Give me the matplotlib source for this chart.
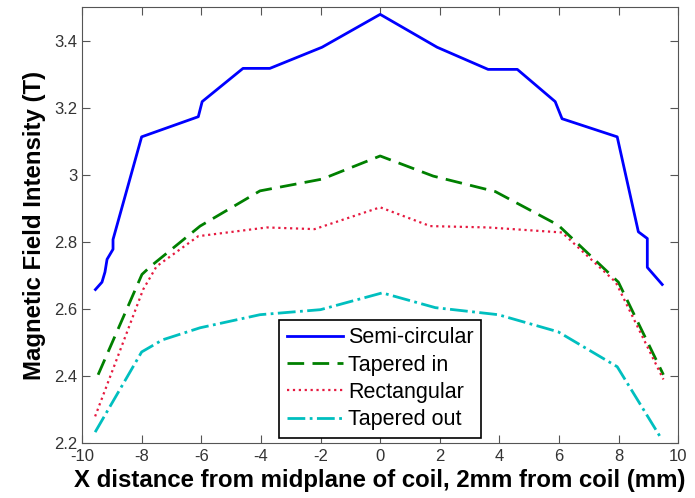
import matplotlib
matplotlib.use('Agg')
import matplotlib.pyplot as plt

plt.rcParams['font.family'] = ['Liberation Sans', 'DejaVu Sans']
plt.rcParams['axes.unicode_minus'] = False

# semi-circular
x_semi = [-9.55, -9.33, -9.23, -9.16, -8.96, -8.96, -8.0, -6.1, -5.97, -4.6, -3.7, -1.95, 0.0,
          1.91, 3.62, 4.6, 5.87, 6.1, 7.95, 8.66, 8.96, 8.96, 9.46]
y_semi = [2.658, 2.68, 2.71, 2.748, 2.778, 2.807, 3.113, 3.173, 3.218, 3.317, 3.317, 3.38, 3.478,
          3.38, 3.314, 3.314, 3.218, 3.167, 3.113, 2.83, 2.81, 2.724, 2.673]

# tapered in
x_tin = [-9.46, -7.99, -7.7, -6.04, -4.03, -1.95, 0.0, 1.78, 3.86, 5.97, 7.99, 9.5]
y_tin = [2.404, 2.703, 2.727, 2.847, 2.952, 2.987, 3.056, 2.996, 2.95, 2.85, 2.68, 2.404]

# rectangular
x_rect = [-9.56, -7.95, -7.5, -6.1, -3.8, -2.2, 0.0, 1.68, 3.62, 6.1, 7.9, 9.5]
y_rect = [2.28, 2.658, 2.727, 2.817, 2.843, 2.838, 2.903, 2.847, 2.843, 2.828, 2.68, 2.39]

# tapered out
x_tout = [-9.56, -8.0, -7.3, -6.04, -4.03, -2.0, 0.07, 1.85, 3.96, 5.97, 7.95, 9.4]
y_tout = [2.233, 2.472, 2.508, 2.544, 2.583, 2.598, 2.648, 2.604, 2.583, 2.532, 2.428, 2.218]

labels = ['Semi-circular', 'Tapered in', 'Rectangular', 'Tapered out']

fig = plt.figure(figsize=(6.95, 4.98), dpi=100)
ax = fig.add_axes([0.118, 0.11, 0.858, 0.876])

ax.plot(x_semi, y_semi, '-', color=(0, 0, 1), lw=2, label=labels[0])
ax.plot(x_tin, y_tin, '--', color=(0, 0.5, 0), lw=2, dashes=(6, 3), label=labels[1])
ax.plot(x_rect, y_rect, ':', color=(0.9, 0.1, 0.25), lw=1.6, label=labels[2])
ax.plot(x_tout, y_tout, '-.', color=(0, 0.75, 0.75), lw=2, label=labels[3])

ax.set_xlim(-10, 10)
ax.set_ylim(2.2, 3.5)
ax.set_xticks(range(-10, 11, 2))
ax.set_yticks([2.2, 2.4, 2.6, 2.8, 3.0, 3.2, 3.4])
ax.set_yticklabels(['2.2', '2.4', '2.6', '2.8', '3', '3.2', '3.4'])
ax.tick_params(direction='in', top=True, right=True, labelsize=12, length=6,
               labelcolor='#333333', color='#555555')
ax.tick_params(axis='x', pad=4)
for s in ax.spines.values():
    s.set_color('#555555')

ax.set_xlabel('X distance from midplane of coil, 2mm from coil (mm)', fontsize=17.3,
              fontweight='bold', labelpad=4)
ax.set_ylabel('Magnetic Field Intensity (T)', fontsize=17.3, fontweight='bold', labelpad=6)

leg = ax.legend(loc='lower center', bbox_to_anchor=(0.5, 0.012), fontsize=15.5,
                fancybox=False, framealpha=1, edgecolor='black', handlelength=2.6,
                borderpad=0.35, labelspacing=0.3, handletextpad=0.25, borderaxespad=0)
leg.get_frame().set_linewidth(1.2)

fig.savefig('out.png', dpi=100)
